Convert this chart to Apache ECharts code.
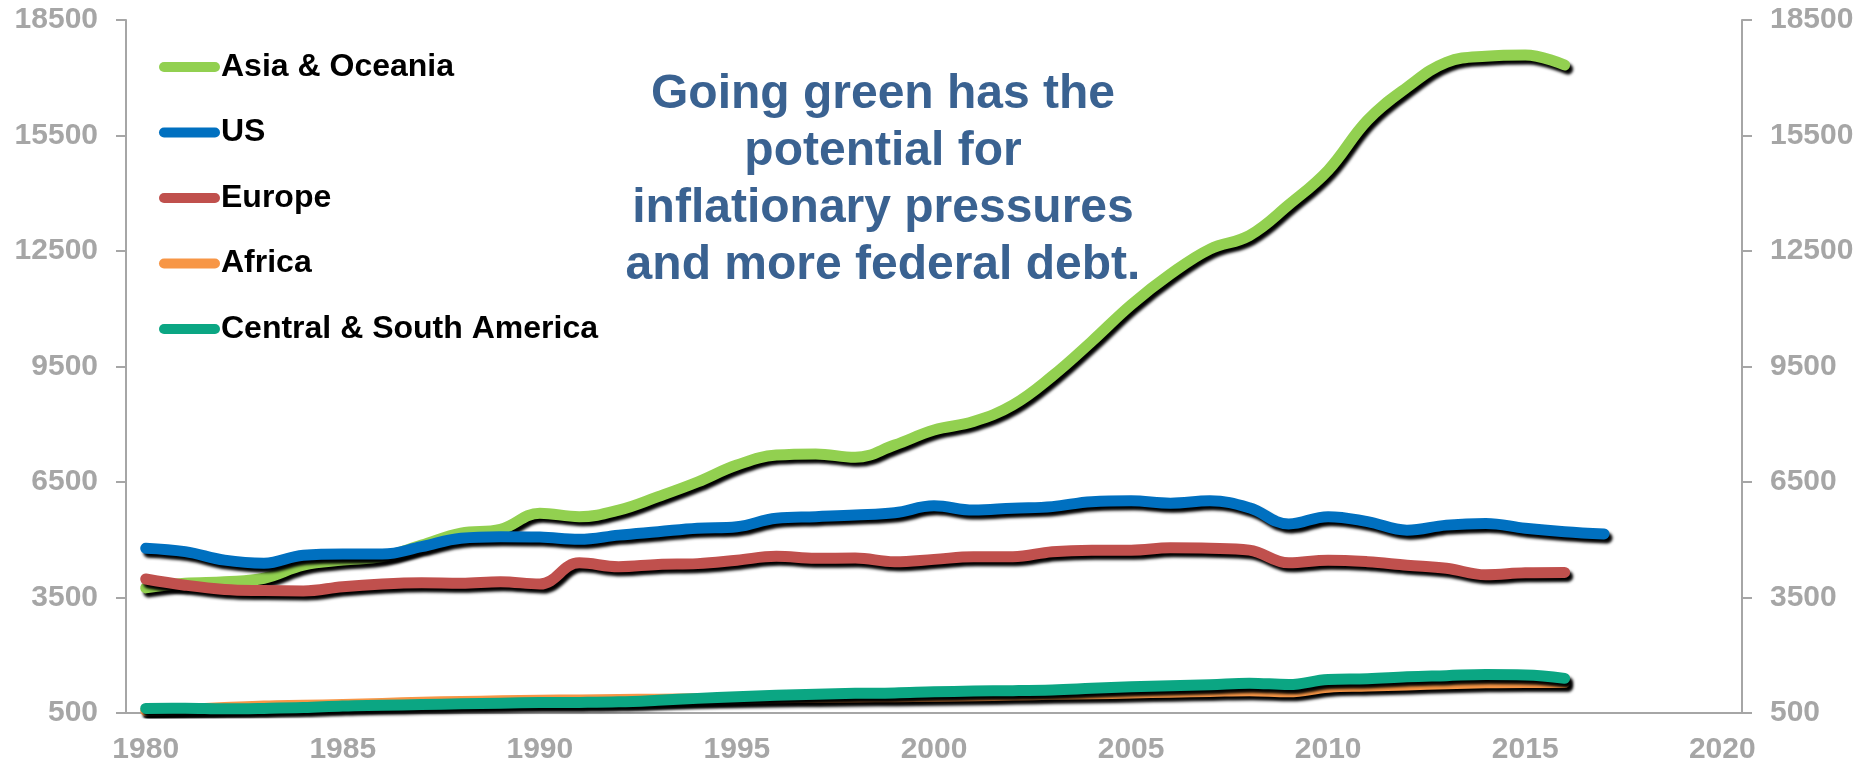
<!DOCTYPE html>
<html>
<head>
<meta charset="utf-8">
<title>Energy consumption by region</title>
<script src="https://cdn.jsdelivr.net/npm/echarts@6/dist/echarts.min.js"></script>
<style>
  html, body { margin: 0; padding: 0; background: #fff; }
  #chart { width: 1869px; height: 767px; }
</style>
</head>
<body>
<div id="chart"></div>
<script>
// x categories (years), the axis runs on to 2020
const years = [
  '1980', '1981', '1982', '1983', '1984', '1985', '1986', '1987', '1988', '1989',
  '1990', '1991', '1992', '1993', '1994', '1995', '1996', '1997', '1998', '1999',
  '2000', '2001', '2002', '2003', '2004', '2005', '2006', '2007', '2008', '2009',
  '2010', '2011', '2012', '2013', '2014', '2015', '2016', '2017', '2018', '2019',
  '2020'
];
const yTicks = [500, 3500, 6500, 9500, 12500, 15500, 18500];

// values, 1980 onwards
const asiaOceania = [
  3750, 3870, 3910, 4000, 4340, 4470, 4560, 4860, 5170, 5270,
  5690, 5600, 5770, 6120, 6500, 6940, 7200, 7230, 7140, 7460,
  7850, 8070, 8500, 9250, 10150, 11100, 11900, 12550, 12900, 13700,
  14600, 15900, 16750, 17400, 17560, 17590, 17330
];
const us = [
  4780, 4690, 4470, 4390, 4600, 4630, 4630, 4820, 5040, 5080,
  5070, 5010, 5120, 5210, 5300, 5340, 5560, 5600, 5640, 5700,
  5880, 5770, 5820, 5860, 5990, 6010, 5950, 6010, 5830, 5410,
  5600, 5470, 5250, 5380, 5425, 5300, 5210, 5150
];
const europe = [
  3980, 3820, 3710, 3680, 3670, 3780, 3850, 3880, 3870, 3910,
  3850, 4400, 4300, 4360, 4380, 4470, 4570, 4520, 4525, 4430,
  4490, 4560, 4560, 4690, 4730, 4730, 4790, 4780, 4730, 4400,
  4470, 4430, 4340, 4260, 4090, 4140, 4150
];
const africa = [
  560, 600, 640, 680, 700, 720, 750, 780, 800, 815,
  830, 840, 850, 860, 870, 880, 895, 905, 915, 925,
  935, 950, 965, 985, 1000, 1020, 1040, 1060, 1080, 1050,
  1170, 1200, 1230, 1260, 1285, 1295, 1290
];
const centralSouthAmerica = [
  620, 625, 610, 620, 640, 680, 700, 720, 740, 755,
  770, 775, 790, 830, 880, 920, 960, 990, 1010, 1020,
  1050, 1070, 1080, 1100, 1140, 1180, 1210, 1235, 1275, 1240,
  1370, 1390, 1440, 1470, 1500, 1490, 1400
];

const seriesNames = ['Asia & Oceania', 'US', 'Europe', 'Africa', 'Central & South America'];
const seriesColors = ['#92D050', '#0070C0', '#C0504D', '#F79646', '#0BA683'];
const seriesData = [asiaOceania, us, europe, africa, centralSouthAmerica];

const note = 'Going green has the\npotential for\ninflationary pressures\nand more federal debt.';

const font = '"Liberation Sans", Arial, sans-serif';
const axisGrey = '#A6A6A6';

var myChart = echarts.init(document.getElementById('chart'));

const valueAxis = (position) => ({
  type: 'value',
  position: position,
  min: 500,
  max: 18500,
  splitLine: { show: false },
  axisLine: { show: true, lineStyle: { color: axisGrey, width: 2 } },
  axisTick: {
    show: true,
    customValues: yTicks,
    length: 10,
    lineStyle: { color: axisGrey, width: 2 },
  },
  axisLabel: {
    customValues: yTicks,
    formatter: (v) => String(v),
    margin: 28,
    color: axisGrey,
    fontSize: 30,
    fontWeight: 'bold',
    fontFamily: font,
  },
});

var option = {
  animation: false,
  backgroundColor: '#fff',
  grid: {
    left: 126,
    right: 127,
    top: 20,
    bottom: 54,
    containLabel: false,
  },
  legend: {
    orient: 'vertical',
    left: 154,
    top: 46,
    itemGap: 33.5,
    itemWidth: 61,
    itemHeight: 10,
    icon: 'path://M5,0 L56,0 A5,5 0 0 1 56,10 L5,10 A5,5 0 0 1 5,0 Z',
    itemStyle: { shadowBlur: 0, shadowOffsetX: 0, shadowOffsetY: 0, shadowColor: 'transparent' },
    textStyle: {
      color: '#000',
      fontSize: 32,
      lineHeight: 32,
      fontWeight: 'bold',
      fontFamily: font,
      padding: [0, 0, 0, -4],
    },
    data: seriesNames,
  },
  graphic: [
    {
      type: 'text',
      x: 883,
      y: 66,
      style: {
        text: note,
        align: 'center',
        verticalAlign: 'top',
        fill: '#3A6291',
        font: 'bold 48px "Liberation Sans", Arial, sans-serif',
        lineHeight: 57,
      },
    },
  ],
  xAxis: {
    type: 'category',
    data: years,
    boundaryGap: true,
    axisLine: { lineStyle: { color: axisGrey, width: 2 } },
    axisTick: {
      interval: 0,
      length: 9,
      lineStyle: { color: axisGrey, width: 2 },
    },
    axisLabel: {
      interval: 4,
      margin: 22,
      color: axisGrey,
      fontSize: 30,
      fontWeight: 'bold',
      fontFamily: font,
    },
  },
  yAxis: [valueAxis('left'), valueAxis('right')],
  series: seriesNames.map((name, i) => ({
    name: name,
    type: 'line',
    data: seriesData[i],
    smooth: 0.4,
    showSymbol: false,
    symbol: 'none',
    color: seriesColors[i],
    lineStyle: {
      width: 11,
      color: seriesColors[i],
      cap: 'round',
      join: 'round',
      shadowColor: 'rgba(0,0,0,1)',
      shadowBlur: 3,
      shadowOffsetX: 3,
      shadowOffsetY: 4,
    },
  })),
};

option && myChart.setOption(option);
</script>
</body>
</html>
